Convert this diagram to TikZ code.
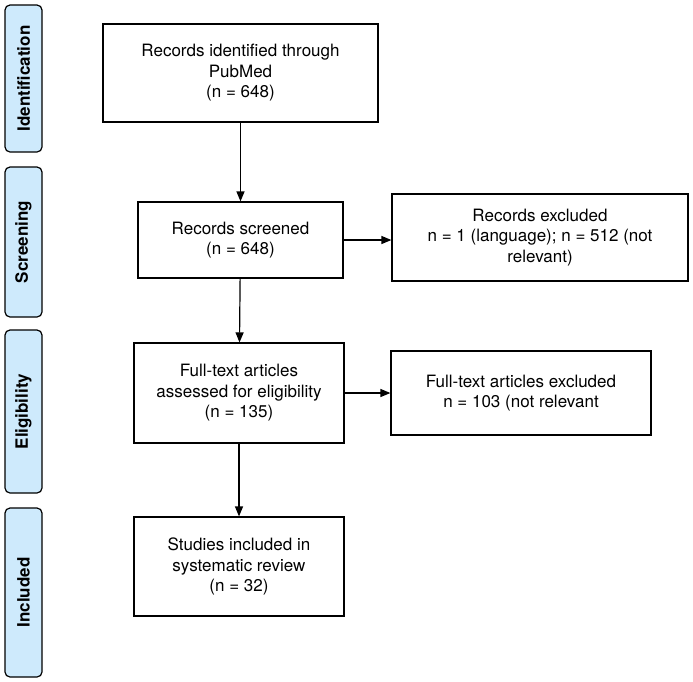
\documentclass[tikz,border=0pt]{standalone}
\usepackage{fontspec}
\setmainfont{TeX Gyre Heros}
\usetikzlibrary{arrows.meta}
\definecolor{phaseblue}{RGB}{206,234,252}

\begin{document}
\begin{tikzpicture}[x=1pt, y=-1pt,
	box/.style={draw, line width=1.2pt, align=center, inner sep=0pt, font=\fontsize{17}{20.5}\selectfont},
	phase/.style={draw, line width=1.2pt, fill=phaseblue, rounded corners=5pt, rotate=90, inner sep=0pt, minimum height=37pt, font=\fontsize{17}{20.5}\selectfont\bfseries},
	link/.style={-{Triangle[length=10pt, width=8pt]}, line width=1.2pt}]
					\useasboundingbox (0,0) rectangle (693,681);
					
					\node[phase, minimum width=147pt] (p1) at (23.5,78.5) {Identification};
					\node[phase, minimum width=150pt] (p2) at (23.5,242) {Screening};
					\node[phase, minimum width=163pt] (p3) at (23.5,411.5) {Eligibility};
					\node[phase, minimum width=169pt] (p4) at (23.5,592.5) {Included};
					
					\node[box, minimum width=275pt, minimum height=98pt] (ident) at (240.5,73) {Records identified through\\PubMed\\(n = 648)};
					\node[box, minimum width=205pt, minimum height=76pt] (screen) at (240.5,240) {Records screened\\(n = 648)};
					\node[box, minimum width=296pt, minimum height=87pt] (excl1) at (540,237.5) {Records excluded\\n = 1 (language); n = 512 (not\\relevant)};
					\node[box, minimum width=210pt, minimum height=100pt] (full) at (239,393) {Full-text articles\\assessed for eligibility\\(n = 135)};
					\node[box, minimum width=260pt, minimum height=84pt] (excl2) at (521,393) {Full-text articles excluded\\n = 103 (not relevant};
					\node[box, minimum width=210pt, minimum height=99pt] (incl) at (239,566.5) {Studies included in\\systematic review\\(n = 32)};
					
					\draw[link] (ident) -- (screen);
					\draw[link] (screen) -- (full);
					\draw[link] (full) -- (incl);
					\draw[link] (screen.east) -- (screen.east -| excl1.west);
					\draw[link] (full) -- (excl2);
\end{tikzpicture}
\end{document}
